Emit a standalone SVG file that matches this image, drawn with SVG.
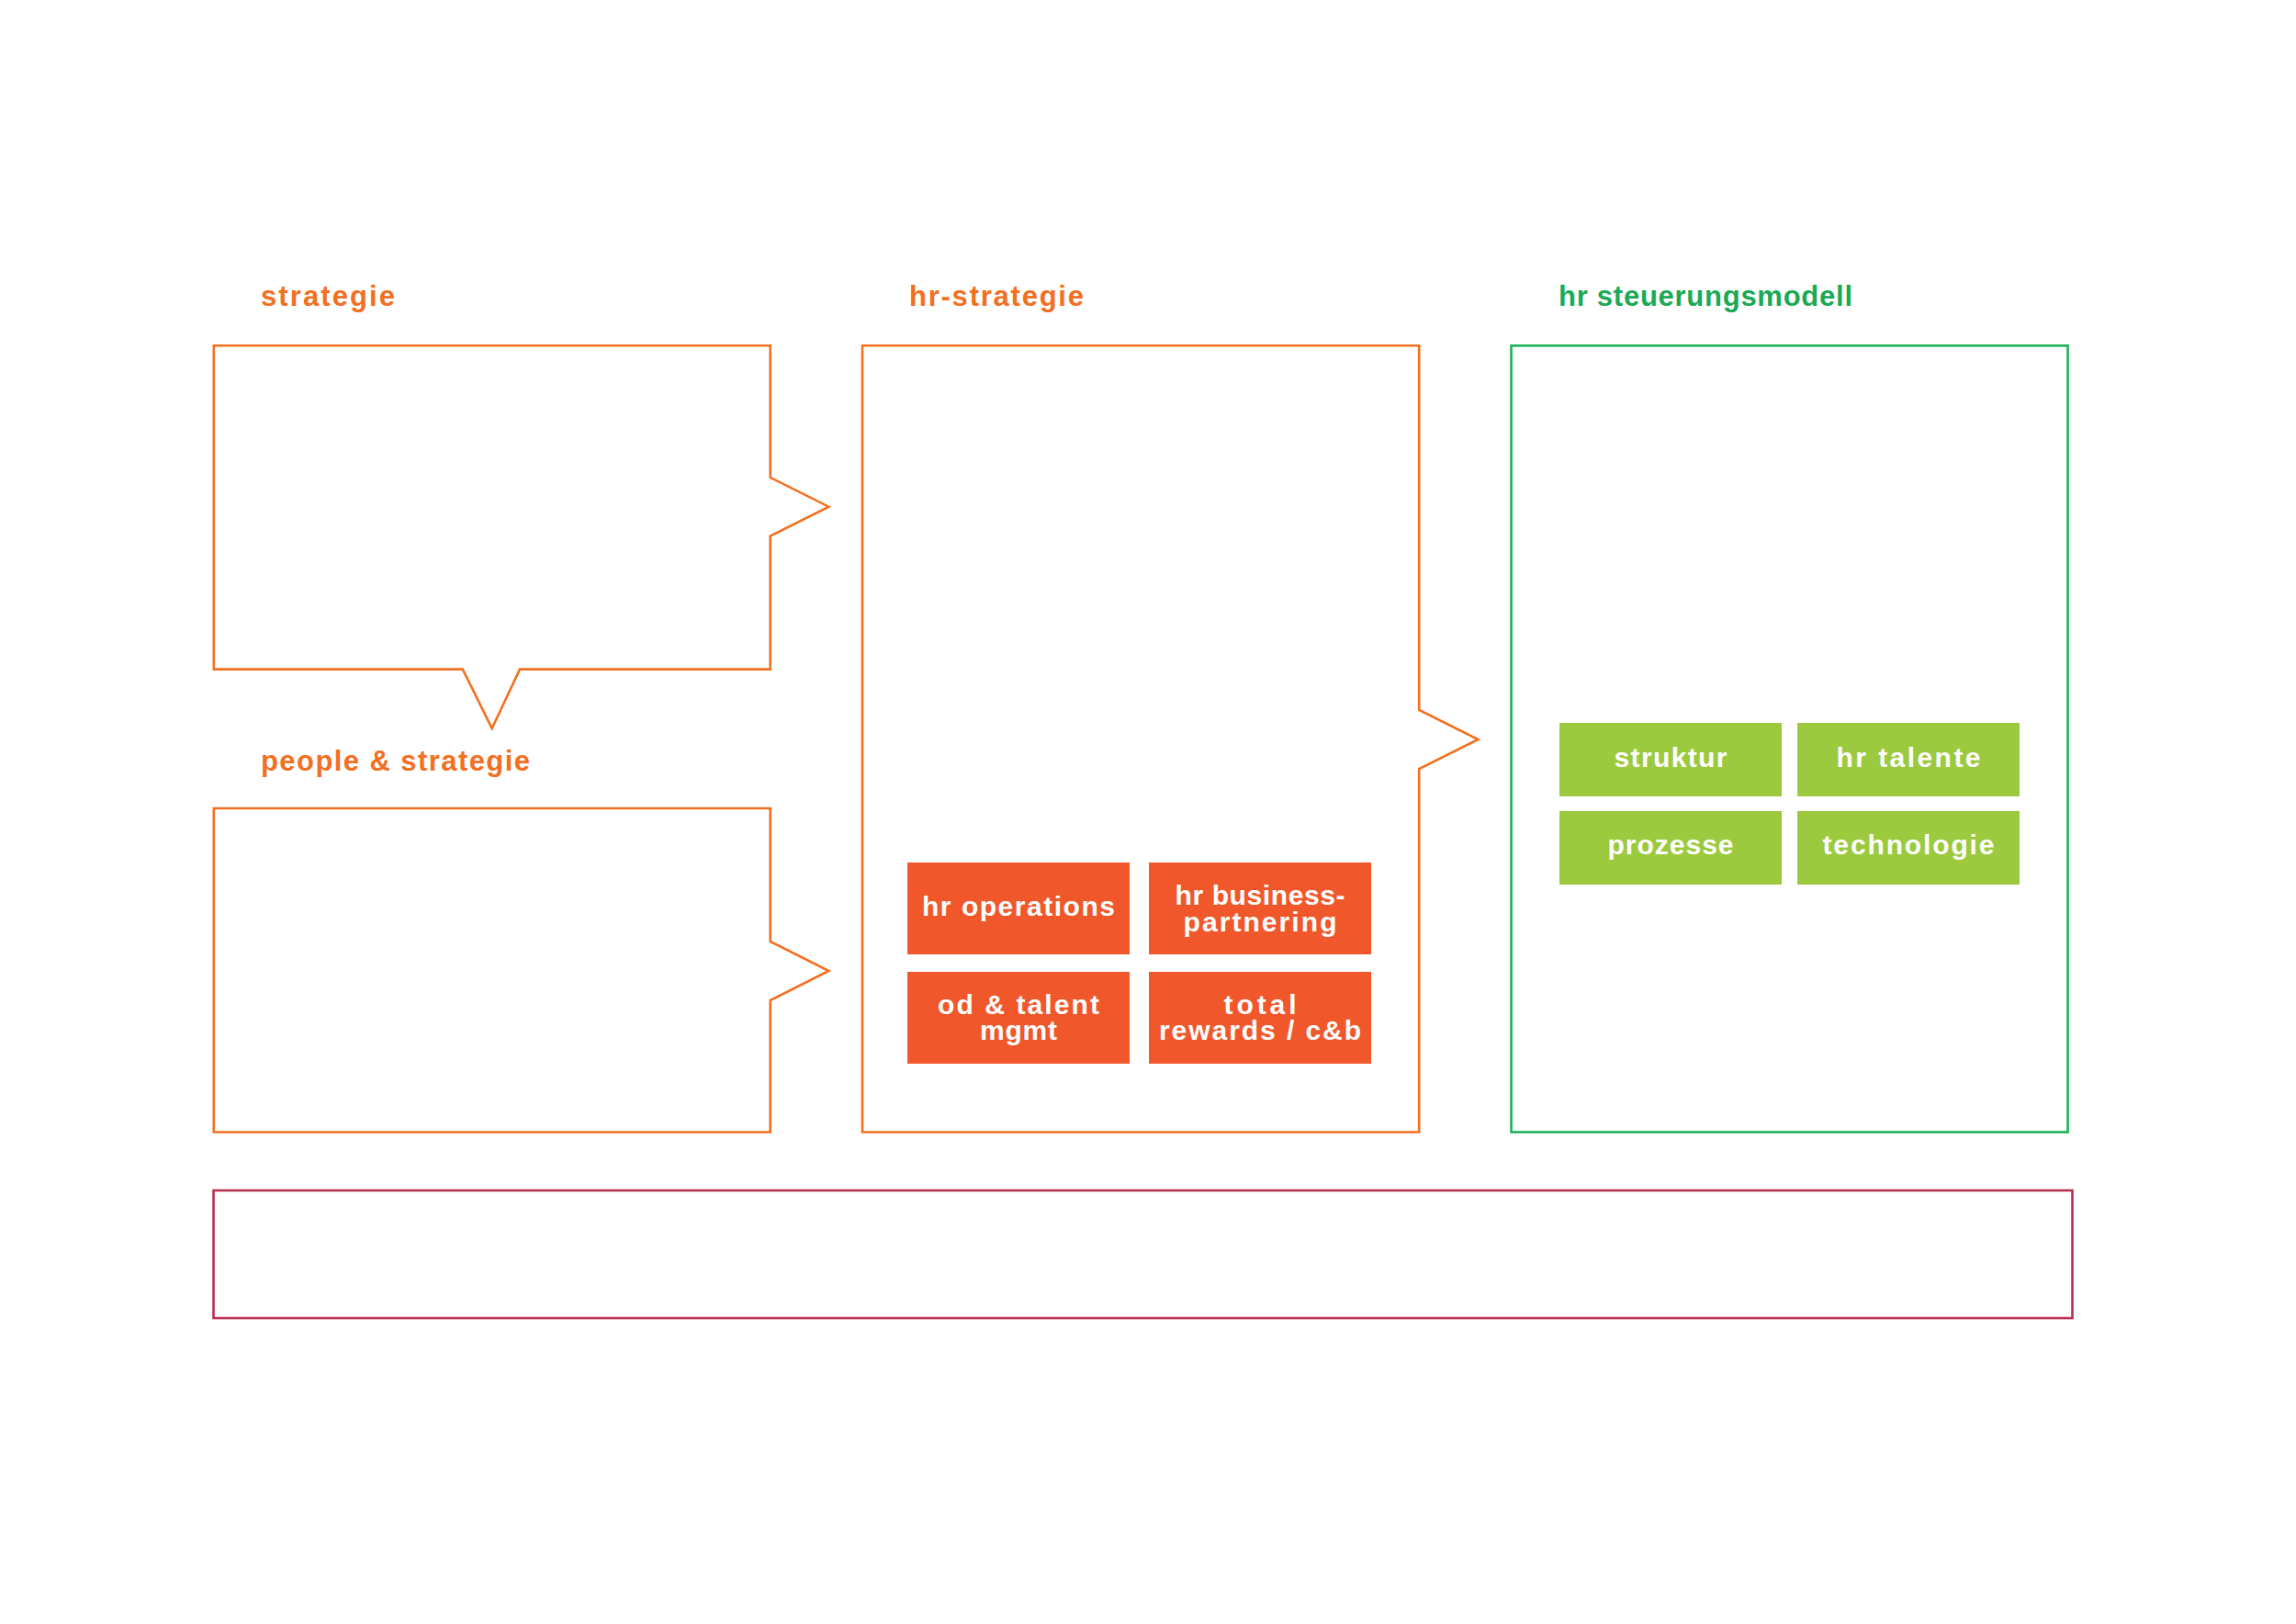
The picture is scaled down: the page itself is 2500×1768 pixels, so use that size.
<svg xmlns="http://www.w3.org/2000/svg" width="2500" height="1768" viewBox="0 0 2500 1768">
<style>
.bg{fill:#ffffff}
.ob{fill:none;stroke:#f37021;stroke-width:2.6;stroke-linejoin:miter}
.gb{fill:none;stroke:#1db15b;stroke-width:2.6}
.rb{fill:none;stroke:#b8304f;stroke-width:2.6}
.lbl{font-family:"Liberation Sans",Arial,sans-serif;font-weight:bold;font-size:31px}
.lo{fill:#f36f21}
.lg{fill:#1aaa55}
.ot{fill:#f0582b}
.gt{fill:#9bca3f}
.tt{font-family:"Liberation Sans",Arial,sans-serif;font-weight:bold;font-size:30px;fill:#ffffff;text-anchor:middle}
</style>
<rect class="bg" x="0" y="0" width="2500" height="1768"/>
<g id="connectors"/>
<g id="strategie">
<path class="ob" d="M232.8,376.3 H838.7 V519.8 L902.4,551.7 L838.7,583.6 V728.6 H566 L535.7,793 L503.8,728.6 H232.8 Z"/>
<text class="lbl lo" x="284" y="333" textLength="146" lengthAdjust="spacing">strategie</text>
</g>
<g id="people-strategie">
<path class="ob" d="M232.8,880 H838.7 V1025 L902.4,1057 L838.7,1089 V1232.5 H232.8 Z"/>
<text class="lbl lo" x="284" y="839" textLength="293" lengthAdjust="spacing">people &amp; strategie</text>
</g>
<g id="hr-strategie">
<path class="ob" d="M939,376.3 H1545.2 V773 L1609.5,805 L1545.2,837 V1232.5 H939 Z"/>
<text class="lbl lo" x="990" y="333" textLength="190" lengthAdjust="spacing">hr-strategie</text>
</g>
<g id="hr-operations">
<rect class="ot" x="988" y="939" width="242" height="100"/>
<text class="tt" x="1109" y="997" textLength="210" lengthAdjust="spacing">hr operations</text>
</g>
<g id="hr-business-partnering">
<rect class="ot" x="1251" y="939" width="242" height="100"/>
<text class="tt" x="1372" y="985" textLength="185" lengthAdjust="spacing">hr business-</text>
<text class="tt" x="1372" y="1014" textLength="167" lengthAdjust="spacing">partnering</text>
</g>
<g id="od-talent-mgmt">
<rect class="ot" x="988" y="1058" width="242" height="100"/>
<text class="tt" x="1109" y="1104" textLength="176" lengthAdjust="spacing">od &amp; talent</text>
<text class="tt" x="1109" y="1132" textLength="84" lengthAdjust="spacing">mgmt</text>
</g>
<g id="total-rewards">
<rect class="ot" x="1251" y="1058" width="242" height="100"/>
<text class="tt" x="1372" y="1104" textLength="79" lengthAdjust="spacing">total</text>
<text class="tt" x="1372" y="1132" textLength="220" lengthAdjust="spacing">rewards / c&amp;b</text>
</g>
<g id="hr-steuerungsmodell">
<rect class="gb" x="1645.5" y="376.3" width="606" height="856.2"/>
<text class="lbl lg" x="1697" y="333" textLength="320" lengthAdjust="spacing">hr steuerungsmodell</text>
</g>
<g id="struktur">
<rect class="gt" x="1698" y="787" width="242" height="80"/>
<text class="tt" x="1819" y="835" textLength="123" lengthAdjust="spacing">struktur</text>
</g>
<g id="hr-talente">
<rect class="gt" x="1957" y="787" width="242" height="80"/>
<text class="tt" x="2078" y="835" textLength="157" lengthAdjust="spacing">hr talente</text>
</g>
<g id="prozesse">
<rect class="gt" x="1698" y="883" width="242" height="80"/>
<text class="tt" x="1819" y="930" textLength="137" lengthAdjust="spacing">prozesse</text>
</g>
<g id="technologie">
<rect class="gt" x="1957" y="883" width="242" height="80"/>
<text class="tt" x="2078" y="930" textLength="187" lengthAdjust="spacing">technologie</text>
</g>
<g id="bottom-band">
<rect class="rb" x="232.5" y="1296" width="2024" height="139"/>
</g>
</svg>
